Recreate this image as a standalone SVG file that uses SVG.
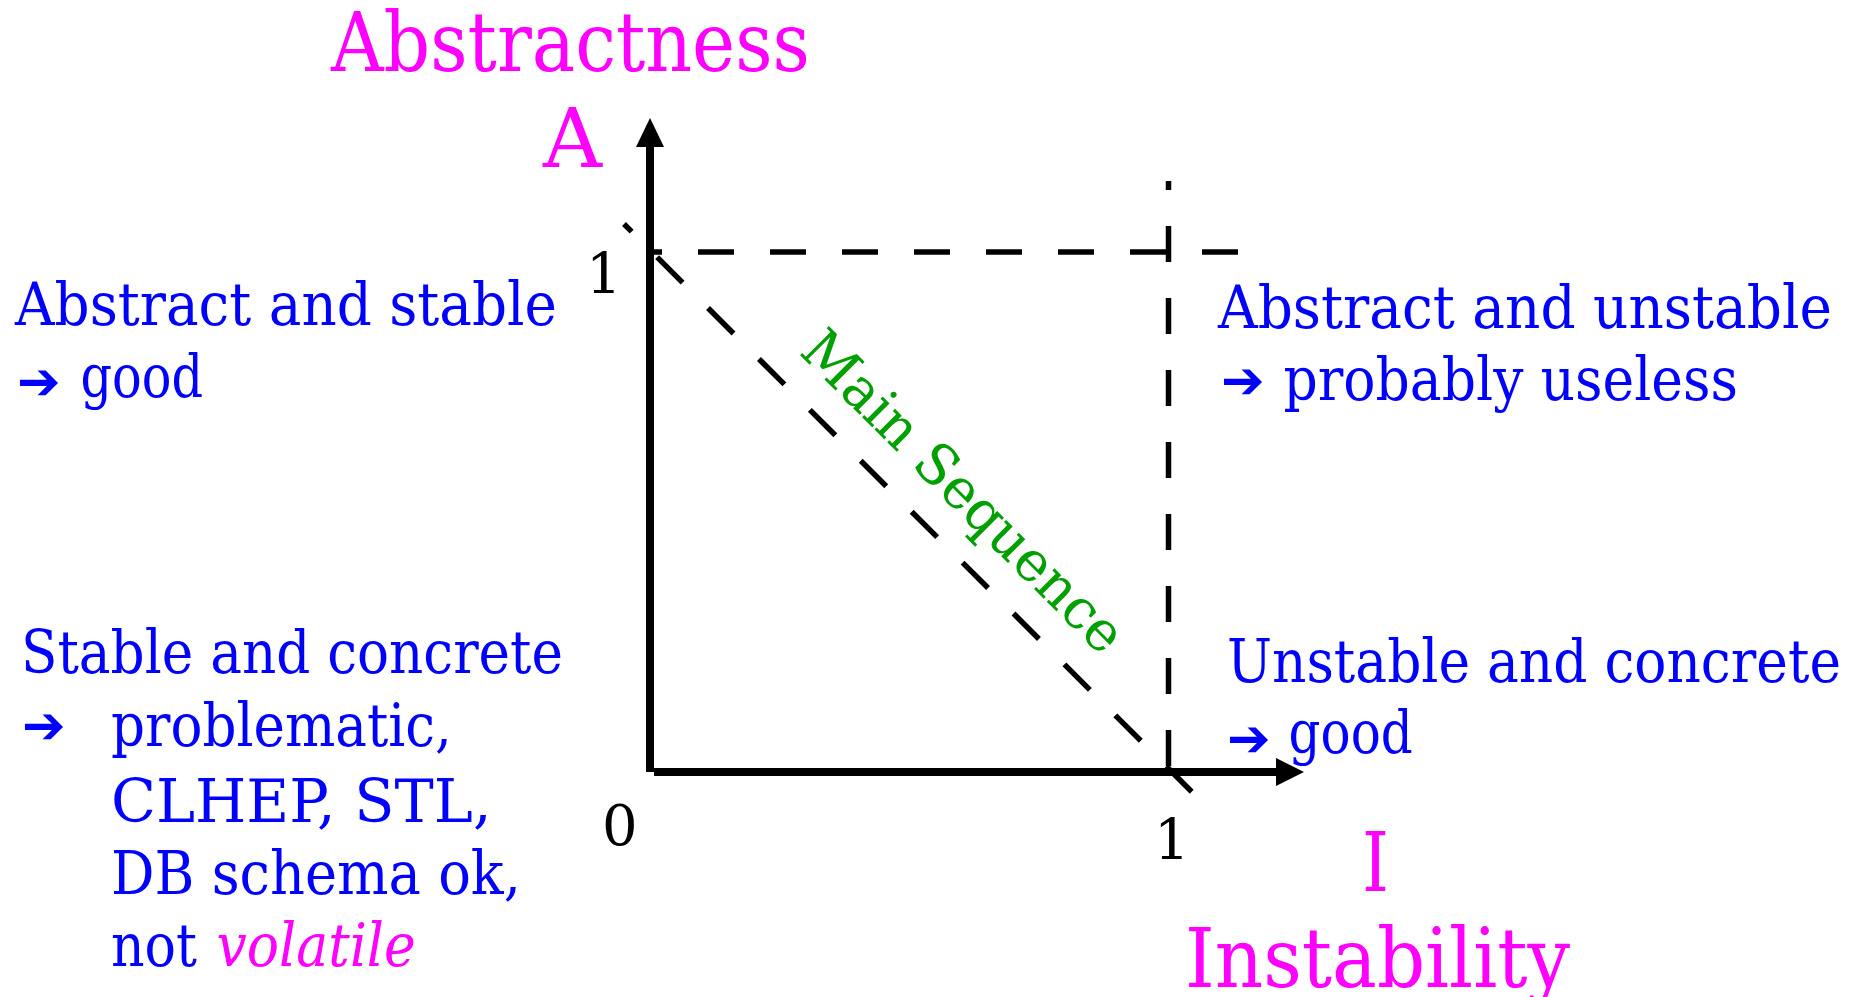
<svg xmlns="http://www.w3.org/2000/svg" width="1856" height="997" viewBox="0 0 1856 997">
<style>
text{font-family:"DejaVu Serif","Liberation Serif",serif;}
.mag{fill:#FF00FF;font-size:82px;}
.blu{fill:#0000FF;font-size:60px;}
.num{fill:#000;font-size:56px;}
.arr{fill:#0000FF;font-family:"DejaVu Sans",sans-serif;font-size:52px;}
.ms{fill:#00A000;font-size:56px;}
.axis{stroke:#000;stroke-width:8;fill:none;}
.dash{stroke:#000;stroke-width:5.5;fill:none;stroke-dasharray:36 36;}
</style>
<rect width="1856" height="997" fill="#fff"/>
<g id="connectors">
  <line class="axis" x1="650" y1="772" x2="650" y2="145"/>
  <polygon points="650,118 636,147 664,147" fill="#000"/>
  <line class="axis" x1="654" y1="772" x2="1278" y2="772"/>
  <polygon points="1304,772 1276,758 1276,786" fill="#000"/>
  <line class="dash" x1="1238" y1="252" x2="654" y2="252"/>
  <line class="dash" x1="1168.5" y1="766" x2="1168.5" y2="181"/>
  <line class="dash" x1="1191.7" y1="791.7" x2="624" y2="224"/>
</g>
<g id="axis-labels">
  <text class="mag" x="331" y="71" textLength="479" lengthAdjust="spacingAndGlyphs">Abstractness</text>
  <text class="mag" x="543" y="167" textLength="59" lengthAdjust="spacingAndGlyphs">A</text>
  <text class="mag" x="1362" y="891" textLength="27" lengthAdjust="spacingAndGlyphs">I</text>
  <text class="mag" x="1185" y="987" textLength="385" lengthAdjust="spacingAndGlyphs">Instability</text>
  <text class="num" x="586" y="293">1</text>
  <text class="num" x="602" y="845">0</text>
  <text class="num" x="1154" y="859">1</text>
</g>
<g id="main-sequence">
  <text class="ms" transform="translate(950,505) rotate(45)" text-anchor="middle" textLength="430" lengthAdjust="spacingAndGlyphs">Main Sequence</text>
</g>
<g id="abstract-stable">
  <text class="blu" x="15" y="325" textLength="542" lengthAdjust="spacingAndGlyphs">Abstract and stable</text>
  <text class="arr" x="17" y="398.7">➔</text>
  <text class="blu" x="80.5" y="397" textLength="122.5" lengthAdjust="spacingAndGlyphs">good</text>
</g>
<g id="abstract-unstable">
  <text class="blu" x="1218" y="328" textLength="614" lengthAdjust="spacingAndGlyphs">Abstract and unstable</text>
  <text class="arr" x="1221" y="397.7">➔</text>
  <text class="blu" x="1283.4" y="400" textLength="454.6" lengthAdjust="spacingAndGlyphs">probably useless</text>
</g>
<g id="stable-concrete">
  <text class="blu" x="21" y="673" textLength="542" lengthAdjust="spacingAndGlyphs">Stable and concrete</text>
  <text class="arr" x="22" y="742.7">➔</text>
  <text class="blu" x="111" y="746" textLength="341" lengthAdjust="spacingAndGlyphs">problematic,</text>
  <text class="blu" x="111" y="822" textLength="380.6" lengthAdjust="spacingAndGlyphs">CLHEP, STL,</text>
  <text class="blu" x="111" y="894" textLength="410" lengthAdjust="spacingAndGlyphs">DB schema ok,</text>
  <text class="blu" x="111" y="966" textLength="86" lengthAdjust="spacingAndGlyphs">not</text>
  <text class="blu" x="216.5" y="966" style="fill:#FF00FF;font-style:italic" textLength="199.2" lengthAdjust="spacingAndGlyphs">volatile</text>
</g>
<g id="unstable-concrete">
  <text class="blu" x="1227" y="682" textLength="614" lengthAdjust="spacingAndGlyphs">Unstable and concrete</text>
  <text class="arr" x="1227" y="755.7">➔</text>
  <text class="blu" x="1288.6" y="753" textLength="124.2" lengthAdjust="spacingAndGlyphs">good</text>
</g>
</svg>
